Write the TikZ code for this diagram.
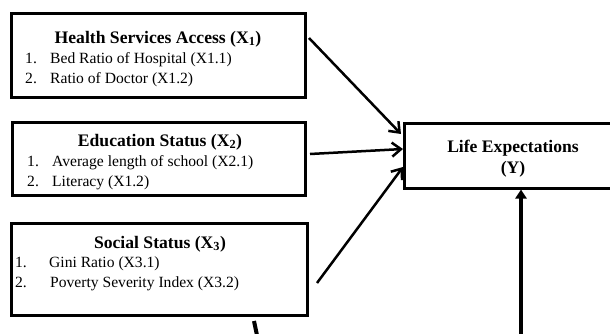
\documentclass[tikz,border=0pt]{standalone}
\usepackage{fontspec}
\setmainfont{Liberation Serif}
\usetikzlibrary{arrows.meta}
\tikzset{
  box/.style={draw, line width=3pt, inner sep=0pt},
  ttl/.style={anchor=base, font=\fontsize{17.6}{20}\selectfont\bfseries, inner sep=0pt},
  itm/.style={anchor=base west, font=\fontsize{15.6}{19}\selectfont, inner sep=0pt},
  openarr/.style={line width=2.5pt, -{Straight Barb[length=9pt,width=14pt,line width=2.5pt]}},
  fillarr/.style={line width=4pt, -{Triangle[length=9pt,width=11pt]}}
}
\begin{document}
\begin{tikzpicture}[x=1pt,y=-1pt]
\useasboundingbox (0,0) rectangle (610,333);
\clip (0,0) rectangle (610,333);
% boxes
\node[box, minimum width=294pt, minimum height=84pt] (hsa) at (158,55) {};
\node[box, minimum width=293pt, minimum height=73pt] (edu) at (158.5,158.5) {};
\node[box, minimum width=296pt, minimum height=92pt] (soc) at (159,269) {};
\node[box, minimum width=216pt, minimum height=65pt] (ly) at (512,155.5) {};
% texts box 1
\node[ttl] (t1) at (158,43) {Health Services Access (X\textsubscript{1})};
\node[itm] (i11) at (25,63) {\makebox[25pt][l]{1.}Bed Ratio of Hospital (X1.1)};
\node[itm] (i12) at (25,83) {\makebox[25pt][l]{2.}Ratio of Doctor (X1.2)};
% texts box 2
\node[ttl] (t2) at (160,146) {Education Status (X\textsubscript{2})};
\node[itm] (i21) at (27,166) {\makebox[25pt][l]{1.}Average length of school (X2.1)};
\node[itm] (i22) at (27,186) {\makebox[25pt][l]{2.}Literacy (X1.2)};
% texts box 3
\node[ttl] (t3) at (160,248) {Social Status (X\textsubscript{3})};
\node[itm] (i31) at (15,267) {\makebox[34pt][l]{1.}Gini Ratio (X3.1)};
\node[itm] (i32) at (15,287) {\makebox[35pt][l]{2.}Poverty Severity Index (X3.2)};
% Y box text
\node[ttl] (ty1) at (513,152) {Life Expectations};
\node[ttl] (ty2) at (513,173) {(Y)};
% connector ends
\coordinate (a1s) at (309,38);
\coordinate (a1e) at (401,134);
\coordinate (a2s) at (310,154);
\coordinate (a2e) at (403,149);
\coordinate (a3s) at (317,283);
\coordinate (a3e) at (403,167);
\coordinate (a4s) at (521,345);
\coordinate (a4e) at (521,189.5);
\coordinate (b1s) at (254,321);
\coordinate (b1e) at (258,340);
\draw[openarr] (a1s) -- (a1e);
\draw[openarr] (a2s) -- (a2e);
\draw[openarr] (a3s) -- (a3e);
\draw[fillarr] (a4s) -- (a4e);
\draw[line width=4pt] (b1s) -- (b1e);
\end{tikzpicture}
\end{document}
